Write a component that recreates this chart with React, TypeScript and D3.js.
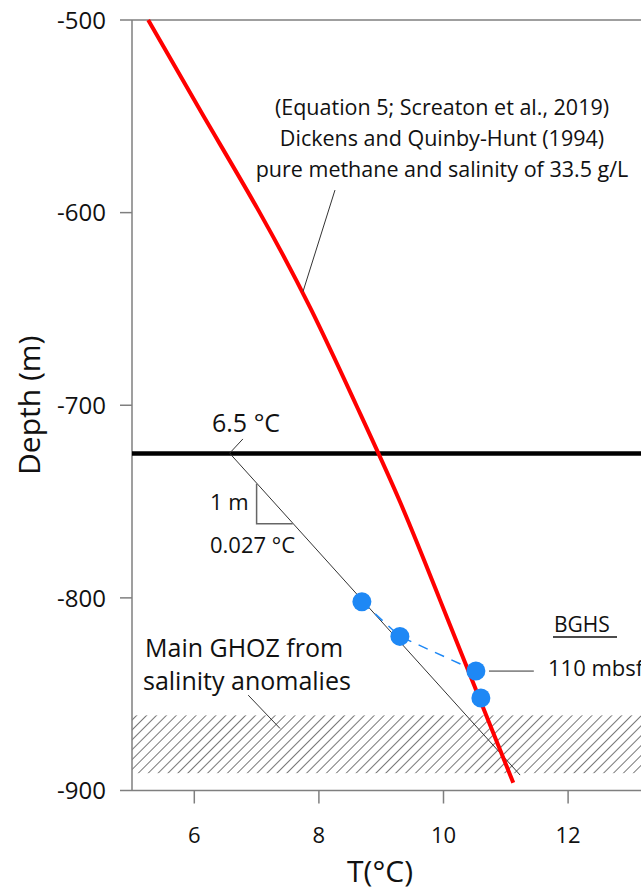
import React, { useRef, useEffect } from 'react';
import * as d3 from 'd3';

const depthTicks = [-500, -600, -700, -800, -900];
const tempTicks = [6, 8, 10, 12];

// hydrate stability curve
const curveDepth = [-500, -550, -600, -650, -700, -750, -800, -850, -896];
const curveTemp = [5.26, 6.15, 7.05, 7.87, 8.6, 9.3, 9.93, 10.55, 11.12];

// measured temperatures
const sampleTemp = [8.69, 9.3, 10.52, 10.6];
const sampleDepth = [-802, -820, -838, -852];

const isothermDepth = -725;
const gradientTemp = [6.57, 11.23];
const gradientDepth = [-725, -892];
const ghozDepth = [-861, -891];

const noteLines = [
  '(Equation 5; Screaton et al., 2019)',
  'Dickens and Quinby-Hunt (1994)',
  'pure methane and salinity of 33.5 g/L'
];

const FONT = '"Open Sans", sans-serif';

const App = () => {
  const ref = useRef(null);

  useEffect(() => {
    const svg = d3.select(ref.current);
    svg.selectAll('*').remove();

    const x = d3.scaleLinear().domain([5, 14]).range([132, 132 + 9 * 62.3]);
    const y = d3.scaleLinear().domain([-500, -900]).range([20, 790.5]);
    const right = 700;

    const defs = svg.append('defs');
    const pat = defs.append('pattern')
      .attr('id', 'hatch')
      .attr('patternUnits', 'userSpaceOnUse')
      .attr('width', 7)
      .attr('height', 7)
      .attr('patternTransform', 'rotate(45)');
    pat.append('line')
      .attr('x1', 0).attr('y1', 0).attr('x2', 0).attr('y2', 7)
      .attr('stroke', '#555')
      .attr('stroke-width', 1.6);

    // hatched GHOZ band
    svg.append('rect')
      .attr('x', x(5))
      .attr('y', y(ghozDepth[0]))
      .attr('width', right - x(5))
      .attr('height', y(ghozDepth[1]) - y(ghozDepth[0]))
      .attr('fill', 'url(#hatch)');

    // axes
    const axisColor = '#7f7f7f';
    svg.append('line')
      .attr('x1', x(5)).attr('x2', x(5)).attr('y1', y(-500)).attr('y2', y(-900))
      .attr('stroke', axisColor).attr('stroke-width', 1.5);
    svg.append('line')
      .attr('x1', x(5)).attr('x2', right).attr('y1', y(-500)).attr('y2', y(-500))
      .attr('stroke', axisColor).attr('stroke-width', 1.5);
    svg.append('line')
      .attr('x1', x(5)).attr('x2', right).attr('y1', y(-900)).attr('y2', y(-900))
      .attr('stroke', axisColor).attr('stroke-width', 1.5);

    svg.selectAll('.ytick')
      .data(depthTicks)
      .enter().append('line')
      .attr('x1', x(5) - 12).attr('x2', x(5))
      .attr('y1', d => y(d)).attr('y2', d => y(d))
      .attr('stroke', axisColor).attr('stroke-width', 1.5);

    svg.selectAll('.ylabel')
      .data(depthTicks)
      .enter().append('text')
      .attr('x', 106)
      .attr('y', d => y(d))
      .attr('dy', '0.36em')
      .attr('text-anchor', 'end')
      .style('font-family', FONT)
      .style('font-size', '24px')
      .style('fill', '#111')
      .text(d => d);

    svg.selectAll('.xtick')
      .data(tempTicks)
      .enter().append('line')
      .attr('x1', d => x(d)).attr('x2', d => x(d))
      .attr('y1', y(-900)).attr('y2', y(-900) + 13)
      .attr('stroke', axisColor).attr('stroke-width', 1.5);

    svg.selectAll('.xlabel')
      .data(tempTicks)
      .enter().append('text')
      .attr('x', d => x(d))
      .attr('y', 843)
      .attr('text-anchor', 'middle')
      .style('font-family', FONT)
      .style('font-size', '22px')
      .style('fill', '#111')
      .text(d => d);

    svg.append('text')
      .attr('x', 380)
      .attr('y', 882)
      .attr('text-anchor', 'middle')
      .style('font-family', FONT)
      .style('font-size', '30px')
      .style('fill', '#111')
      .text('T(°C)');

    svg.append('text')
      .attr('transform', `translate(40, ${(y(-500) + y(-900)) / 2}) rotate(-90)`)
      .attr('text-anchor', 'middle')
      .style('font-family', FONT)
      .style('font-size', '30px')
      .style('fill', '#111')
      .text('Depth (m)');

    // isotherm line
    svg.append('line')
      .attr('x1', x(5)).attr('x2', right)
      .attr('y1', y(isothermDepth)).attr('y2', y(isothermDepth))
      .attr('stroke', '#000').attr('stroke-width', 4.5);

    // gradient line
    svg.append('line')
      .attr('x1', x(gradientTemp[0])).attr('y1', y(gradientDepth[0]))
      .attr('x2', x(gradientTemp[1])).attr('y2', y(gradientDepth[1]))
      .attr('stroke', '#333').attr('stroke-width', 1);

    // slope triangle
    svg.append('path')
      .attr('d', `M${x(7.0)},${y(-740.8)} L${x(7.0)},${y(-761.5)} L${x(7.58)},${y(-761.5)}`)
      .attr('fill', 'none')
      .attr('stroke', '#666')
      .attr('stroke-width', 1.5);

    const label = (tx, ty, txt, size, anchor = 'start') =>
      svg.append('text')
        .attr('x', tx).attr('y', ty)
        .attr('text-anchor', anchor)
        .style('font-family', FONT)
        .style('font-size', size)
        .style('fill', '#111')
        .text(txt);

    const leader = (t1, d1, t2, d2) =>
      svg.append('line')
        .attr('x1', x(t1)).attr('y1', y(d1))
        .attr('x2', x(t2)).attr('y2', y(d2))
        .attr('stroke', '#333').attr('stroke-width', 1);

    label(212, 432, '6.5 °C', '25px');
    leader(6.57, -724.8, 6.78, -717.5);
    label(210, 510, '1 m', '22px');
    label(210, 553, '0.027 °C', '22px');

    // stability curve
    const line = d3.line()
      .x(d => x(d[0]))
      .y(d => y(d[1]))
      .curve(d3.curveNatural);
    svg.append('path')
      .datum(curveTemp.map((t, i) => [t, curveDepth[i]]))
      .attr('d', line)
      .attr('fill', 'none')
      .attr('stroke', '#ff0000')
      .attr('stroke-width', 4);

    // dashed link between samples
    const pts = sampleTemp.map((t, i) => [t, sampleDepth[i]]);
    svg.append('path')
      .datum(pts.slice(0, 3))
      .attr('d', d3.line().x(d => x(d[0])).y(d => y(d[1])))
      .attr('fill', 'none')
      .attr('stroke', '#1e88f5')
      .attr('stroke-width', 1.5)
      .attr('stroke-dasharray', '10,8');

    svg.selectAll('.pt')
      .data(pts)
      .enter().append('circle')
      .attr('cx', d => x(d[0]))
      .attr('cy', d => y(d[1]))
      .attr('r', 9.5)
      .attr('fill', '#1e88f5');

    // annotations
    noteLines.forEach((t, i) => label(442, 115 + i * 31, t, '21.5px', 'middle'));
    leader(8.258, -588.3, 7.745, -641);

    label(145, 657, 'Main GHOZ from', '25px');
    label(143, 690, 'salinity anomalies', '25px');
    leader(6.865, -850.5, 7.376, -867.8);

    label(554, 632, 'BGHS', '21px');
    svg.append('line')
      .attr('x1', 553).attr('x2', 617).attr('y1', 637).attr('y2', 637)
      .attr('stroke', '#111').attr('stroke-width', 1.5);
    leader(10.73, -838, 11.45, -838);
    label(548, 676, '110 mbsf', '22px');
  }, []);

  return (
    <svg ref={ref} width="641" height="894"
      style={{ position: 'absolute', left: 0, top: 0, background: '#fff' }}></svg>
  );
};

export default App;
